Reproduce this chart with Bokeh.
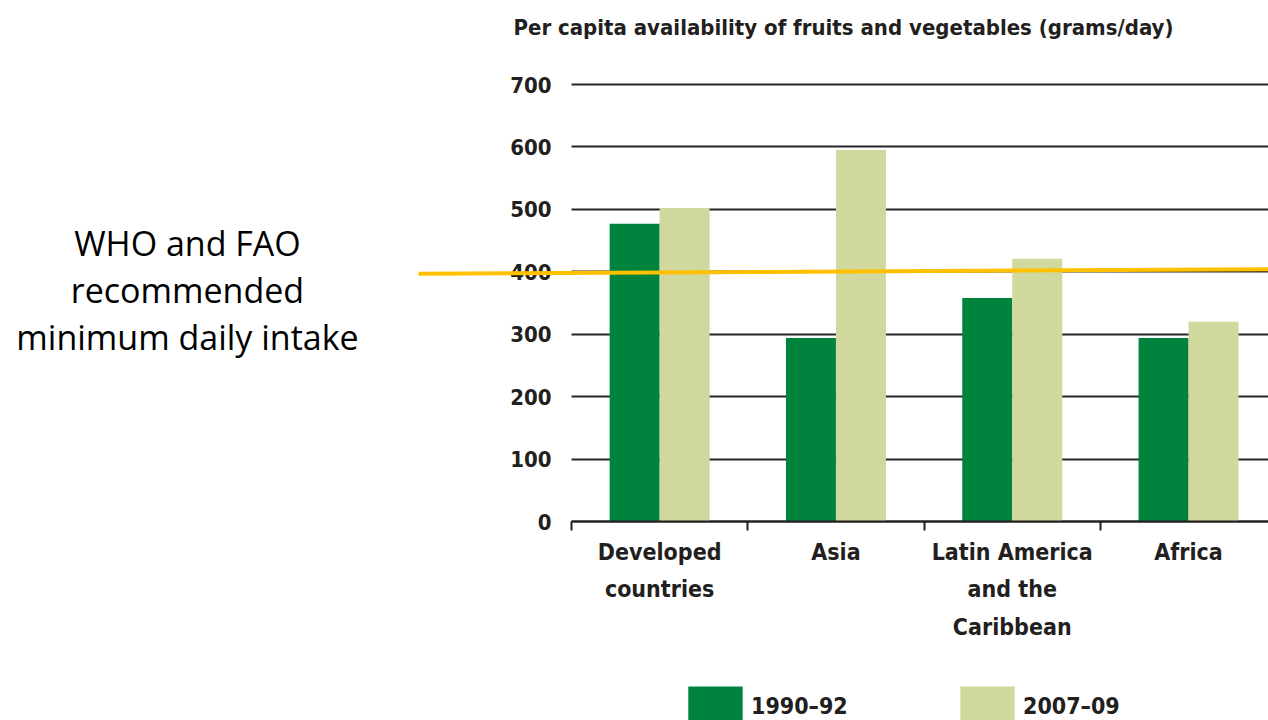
from bokeh.plotting import figure
from bokeh.models import (FixedTicker, Label, Arrow, Legend, LegendItem, LinearAxis, Grid,
                          ColumnDataSource, Range1d)
from bokeh.embed import file_html
from bokeh.resources import INLINE

# ---- data ----
categories = ["Developed countries", "Asia", "Latin America and the Caribbean", "Africa"]
category_labels = ["Developed\ncountries", "Asia", "Latin America\nand the\nCaribbean", "Africa"]
values_1990_92 = [477, 294, 358, 294]
values_2007_09 = [502, 595, 421, 320]
series_names = ["1990\u201392", "2007\u201309"]
y_ticks = [0, 100, 200, 300, 400, 500, 600, 700]
who_fao_min = 400

# ---- layout constants (page pixels) ----
W, H = 1268, 720
AXIS_X, AXIS_Y = 571, 521
PX_PER_CAT = 176.3
PX_PER_UNIT = (521 - 84) / 700.0

def dx(px):
    return (px - AXIS_X) / PX_PER_CAT

def dy(py):
    return (AXIS_Y - py) / PX_PER_UNIT

DARK = "#00833C"
LIGHT = "#D1D89E"
INK = "#231F20"
FONT = "DejaVu Sans Condensed, Liberation Sans Narrow, Roboto"

p = figure(width=W, height=H, output_backend="svg", toolbar_location=None,
           x_range=Range1d(dx(0), dx(W)), y_range=Range1d(dy(H), dy(0)),
           x_axis_location=None, y_axis_location=None,
           min_border_left=0, min_border_right=0, min_border_top=0, min_border_bottom=0)
p.outline_line_color = None
p.background_fill_color = "white"
p.grid.visible = False

# horizontal grid lines from the axis to the right edge
ygrid = Grid(dimension=1, ticker=FixedTicker(ticks=y_ticks), grid_line_color="#262626", grid_line_width=2)
if "cross_bounds" in Grid.properties():
    ygrid.cross_bounds = (0, dx(W))
    p.add_layout(ygrid, "center")
else:
    p.segment(x0=[0] * len(y_ticks), x1=[dx(W)] * len(y_ticks), y0=y_ticks, y1=y_ticks,
              line_color="#262626", line_width=2)

bw = 50 / PX_PER_CAT
n = len(categories)
x_a = [i + 0.5 - bw / 2 for i in range(n)]
x_b = [i + 0.5 + bw / 2 for i in range(n)]
src = ColumnDataSource(dict(xa=x_a, xb=x_b, a=values_1990_92, b=values_2007_09))
ra = p.vbar(x="xa", top="a", width=bw, source=src, fill_color=DARK, line_color=None)
rb = p.vbar(x="xb", top="b", width=bw, source=src, fill_color=LIGHT, line_color=None)

# y axis
yaxis = LinearAxis(fixed_location=0, ticker=FixedTicker(ticks=y_ticks), bounds=(0, 700))
yaxis.axis_line_color = None
yaxis.major_tick_line_color = None
yaxis.minor_tick_line_color = None
yaxis.major_label_standoff = 14
yaxis.major_label_text_font = FONT
yaxis.major_label_text_font_style = "bold"
yaxis.major_label_text_font_size = "22px"
yaxis.major_label_text_color = INK
p.add_layout(yaxis, "left")

# x axis
centers = [i + 0.5 for i in range(n)]
xaxis = LinearAxis(fixed_location=0, bounds=(0, dx(W)),
                   ticker=FixedTicker(ticks=centers, minor_ticks=list(range(n))))
xaxis.major_label_overrides = {c: lab for c, lab in zip(centers, category_labels)}
xaxis.major_tick_line_color = None
xaxis.minor_tick_out = 9
xaxis.minor_tick_in = 0
xaxis.minor_tick_line_width = 2
xaxis.minor_tick_line_color = INK
xaxis.axis_line_width = 2
xaxis.axis_line_color = INK
xaxis.major_label_standoff = 8
xaxis.major_label_text_font = FONT
xaxis.major_label_text_font_style = "bold"
xaxis.major_label_text_font_size = "23px"
xaxis.major_label_text_color = INK
xaxis.major_label_text_line_height = 1.45
p.add_layout(xaxis, "below")

# title
p.add_layout(Label(x=dx(843), y=dy(27), text="Per capita availability of fruits and vegetables (grams/day)",
                   text_align="center", text_baseline="middle", text_font=FONT, text_font_style="bold",
                   text_font_size="22px", text_color=INK))

# WHO/FAO line
p.add_layout(Arrow(end=None, x_start=dx(418), y_start=who_fao_min - 3, x_end=dx(W), y_end=who_fao_min + 4,
                   line_color="#FFC000", line_width=4))

for txt, py in [("WHO and FAO", 242), ("recommended", 289), ("minimum daily intake", 336)]:
    p.add_layout(Label(x=dx(187), y=dy(py), text=txt, text_align="center", text_baseline="middle",
                       text_font="Open Sans", text_font_size="34px", text_color="black"))

# legend: the bar swatch is drawn inset by 10% of the glyph box on each side
legend = Legend(items=[LegendItem(label=series_names[0], renderers=[ra]),
                       LegendItem(label=series_names[1], renderers=[rb])],
                orientation="horizontal", location=(681, -11),
                glyph_width=68, glyph_height=50, label_standoff=2, label_width=202,
                spacing=0, padding=0, margin=0, border_line_color=None,
                background_fill_alpha=0, label_text_font=FONT, label_text_font_style="bold",
                label_text_font_size="23px", label_text_color=INK)
p.add_layout(legend, "center")

open("out.html", "w").write(file_html(p, INLINE))
